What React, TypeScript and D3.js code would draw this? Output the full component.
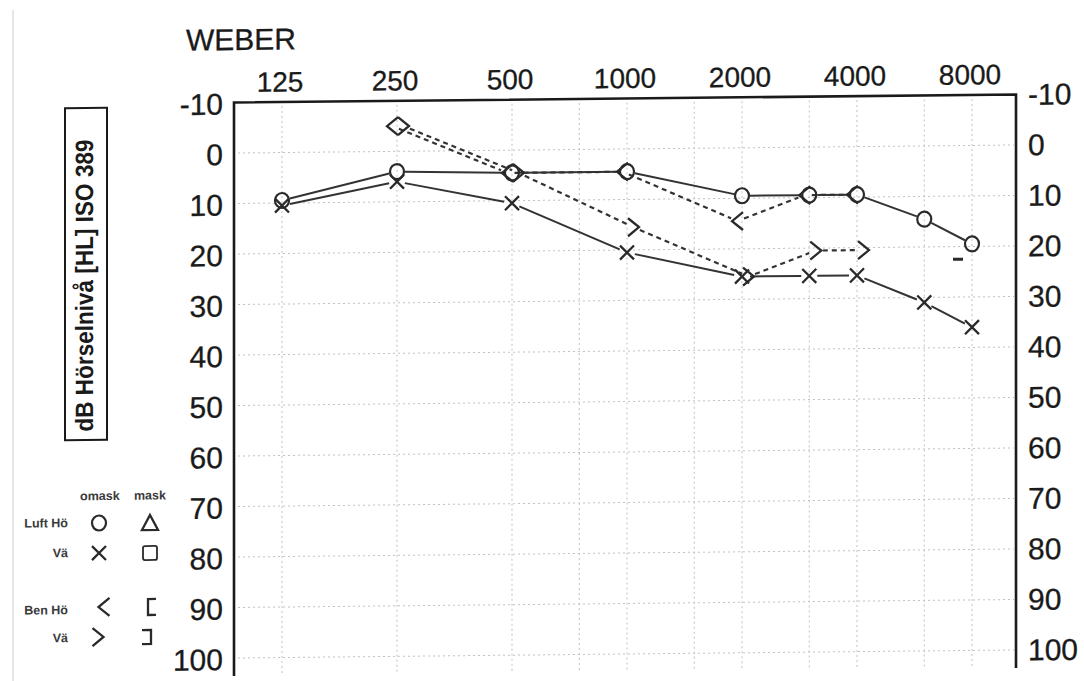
import React, { useEffect, useRef } from 'react';
import * as d3 from 'd3';

const W = 1084;
const H = 681;

// top axis frequencies (Hz) and the grid lines
const freqLabels = [125, 250, 500, 1000, 2000, 4000, 8000];
const gridFreqs = [125, 250, 500, 750, 1000, 1500, 2000, 3000, 4000, 6000, 8000];
const dbTicks = [-10, 0, 10, 20, 30, 40, 50, 60, 70, 80, 90, 100];
const dbGrid = [0, 10, 20, 30, 40, 50, 60, 70, 80, 90, 100];

// Luft Hö (circles, solid)
const airRightFreq = [125, 250, 500, 1000, 2000, 3000, 4000, 6000, 8000];
const airRightDb = [9.5, 4, 4.5, 4.5, 9.5, 9.5, 9.5, 14.5, 19.5];
// Luft Vä (crosses, solid)
const airLeftFreq = [125, 250, 500, 1000, 2000, 3000, 4000, 6000, 8000];
const airLeftDb = [10.5, 6, 10.5, 20.5, 25.5, 25.5, 25.5, 31, 36];
// Ben Hö (<, dashed)
const boneRightFreq = [250, 500, 1000, 2000, 3000, 4000];
const boneRightDb = [-5, 4.5, 4.5, 14.5, 9.5, 9.5];
// Ben Vä (>, dashed)
const boneLeftFreq = [250, 500, 1000, 2000, 3000, 4000];
const boneLeftDb = [-5, 4.5, 15.5, 25.5, 20.5, 20.5];
// stray mark under 8000
const extraFreq = [8000];
const extraDb = [22.5];

const FONT = 'Liberation Sans, Arial, sans-serif';
const INK = '#2a2a2a';

const symbolPath = (type: string) => {
    switch (type) {
        case 'cross': return 'M-7,-7L7,7M-7,7L7,-7';
        case 'lt': return 'M5.5,-9L-5.5,0L5.5,9';
        case 'gt': return 'M-5.5,-9L5.5,0L-5.5,9';
        case 'tri': return 'M0,-8L8,7L-8,7Z';
        case 'bracketL': return 'M4,-8L-4,-8L-4,8L4,8';
        case 'bracketR': return 'M-5,-7L4,-7L4,7L-5,7';
        case 'dash': return 'M-5,0L5,0';
        default: return '';
    }
};

const drawSymbol = (g: any, type: string, cx: number, cy: number) => {
    if (type === 'circle') {
        g.append('ellipse')
            .attr('cx', cx).attr('cy', cy)
            .attr('rx', 7).attr('ry', 7.5)
            .attr('fill', 'none').attr('stroke', INK).attr('stroke-width', 2.2);
    } else if (type === 'square') {
        g.append('rect')
            .attr('x', cx - 7).attr('y', cy - 7)
            .attr('width', 14).attr('height', 14).attr('rx', 2)
            .attr('fill', 'none').attr('stroke', INK).attr('stroke-width', 1.8);
    } else {
        g.append('path')
            .attr('d', symbolPath(type))
            .attr('transform', `translate(${cx},${cy})`)
            .attr('fill', 'none').attr('stroke', INK)
            .attr('stroke-width', type === 'dash' ? 3 : 2.3);
    }
};

const Audiogram = () => {
    const svgRef = useRef<SVGSVGElement | null>(null);

    useEffect(() => {
        const svg = d3.select(svgRef.current);
        svg.selectAll('*').remove();

        svg.append('rect').attr('width', W).attr('height', H).attr('fill', '#fff');

        // the scanned sheet is slightly skewed: right side sits higher
        const root = svg.append('g').attr('transform', 'translate(0,6.44) skewY(-0.59)');

        const left = 234;
        const right = 1016;
        const bottom = 672;

        const x = d3.scaleLog().domain([125, 8000]).range([282, 972]);
        const y = d3.scaleLinear().domain([-10, 100]).range([98.5, 654]);

        // faint scan edge
        svg.append('line')
            .attr('x1', 13).attr('x2', 13).attr('y1', 10).attr('y2', H)
            .attr('stroke', '#e6e6e6').attr('stroke-width', 2);

        // grid
        const grid = root.append('g')
            .attr('stroke', '#9a9a9a').attr('stroke-width', 1)
            .attr('stroke-dasharray', '2,3').attr('opacity', 0.6);
        grid.selectAll('.hg').data(dbGrid).enter().append('line')
            .attr('x1', left + 4).attr('x2', right - 2)
            .attr('y1', d => y(d)).attr('y2', d => y(d));
        grid.selectAll('.vg').data(gridFreqs).enter().append('line')
            .attr('x1', d => x(d)).attr('x2', d => x(d))
            .attr('y1', y(-10) + 4).attr('y2', bottom);

        // frame (no bottom edge)
        root.append('path')
            .attr('d', `M${left},${bottom}L${left},${y(-10)}L${right},${y(-10)}L${right},${bottom}`)
            .attr('fill', 'none').attr('stroke', '#1a1a1a').attr('stroke-width', 2.6);

        // top frequency labels
        root.selectAll('.fl').data(freqLabels).enter().append('text')
            .attr('x', d => x(d) - 2).attr('y', 88)
            .attr('text-anchor', 'middle')
            .attr('font-family', FONT).attr('font-size', 28).attr('fill', '#1a1a1a')
            .attr('stroke', '#1a1a1a').attr('stroke-width', 0.3)
            .text(d => d);

        root.append('text')
            .attr('x', 186).attr('y', 46)
            .attr('font-family', FONT).attr('font-size', 30).attr('fill', '#1a1a1a')
            .attr('stroke', '#1a1a1a').attr('stroke-width', 0.3)
            .text('WEBER');

        // dB labels on both sides
        root.selectAll('.ll').data(dbTicks).enter().append('text')
            .attr('x', 223).attr('y', d => y(d) + 1.5).attr('dy', '0.35em')
            .attr('text-anchor', 'end')
            .attr('font-family', FONT).attr('font-size', 30).attr('fill', '#1a1a1a')
            .attr('stroke', '#1a1a1a').attr('stroke-width', 0.3)
            .text(d => d);
        root.selectAll('.rl').data(dbTicks).enter().append('text')
            .attr('x', 1028).attr('y', d => y(d)).attr('dy', '0.35em')
            .attr('text-anchor', 'start')
            .attr('font-family', FONT).attr('font-size', 30).attr('fill', '#1a1a1a')
            .attr('stroke', '#1a1a1a').attr('stroke-width', 0.3)
            .text(d => d);

        // y title in a box
        root.append('rect')
            .attr('x', 65).attr('y', 102.4).attr('width', 42).attr('height', 332)
            .attr('fill', 'none').attr('stroke', '#1a1a1a').attr('stroke-width', 2);
        root.append('text')
            .attr('transform', 'translate(93,280) rotate(-90)')
            .attr('text-anchor', 'middle')
            .attr('font-family', FONT).attr('font-size', 25).attr('font-weight', 'bold')
            .attr('textLength', 292).attr('lengthAdjust', 'spacingAndGlyphs')
            .attr('fill', '#1a1a1a')
            .text('dB Hörselnivå [HL] ISO 389');

        // series
        const series = [
            { freq: airRightFreq, db: airRightDb, sym: 'circle', dx: 0, dash: null, gap: 8 },
            { freq: airLeftFreq, db: airLeftDb, sym: 'cross', dx: 0, dash: null, gap: 8 },
            { freq: boneRightFreq, db: boneRightDb, sym: 'lt', dx: -4.5, dash: '5,4', gap: 7 },
            { freq: boneLeftFreq, db: boneLeftDb, sym: 'gt', dx: 6.5, dash: '5,4', gap: 7 },
        ];

        const lines = root.append('g');
        const marks = root.append('g');

        series.forEach(s => {
            const pts = s.freq.map((f, i) => [x(f) + s.dx, y(s.db[i])] as [number, number]);
            for (let i = 0; i < pts.length - 1; i++) {
                const [x1, y1] = pts[i];
                const [x2, y2] = pts[i + 1];
                const len = Math.hypot(x2 - x1, y2 - y1);
                if (len <= s.gap * 2) continue;
                const ux = (x2 - x1) / len;
                const uy = (y2 - y1) / len;
                lines.append('line')
                    .attr('x1', x1 + ux * s.gap).attr('y1', y1 + uy * s.gap)
                    .attr('x2', x2 - ux * s.gap).attr('y2', y2 - uy * s.gap)
                    .attr('stroke', '#333').attr('stroke-width', s.dash ? 2.2 : 2)
                    .attr('stroke-dasharray', s.dash);
            }
            pts.forEach(([px, py]) => drawSymbol(marks, s.sym, px, py));
        });

        extraFreq.forEach((f, i) => drawSymbol(marks, 'dash', x(f) - 14, y(extraDb[i])));

        // legend
        const legend = root.append('g');
        const lt = (t: string, lx: number, ly: number, anchor: string) =>
            legend.append('text')
                .attr('x', lx).attr('y', ly).attr('text-anchor', anchor)
                .attr('font-family', FONT).attr('font-size', 12.5).attr('font-weight', 'bold')
                .attr('fill', '#3a3a3a')
                .text(t);
        lt('omask', 80, 494.6, 'start');
        lt('mask', 134, 494.6, 'start');
        lt('Luft Hö', 68, 521.4, 'end');
        lt('Vä', 68, 551.4, 'end');
        lt('Ben Hö', 68, 608.4, 'end');
        lt('Vä', 68, 636.4, 'end');
        drawSymbol(legend, 'circle', 99, 517.6);
        drawSymbol(legend, 'tri', 150, 518.1);
        drawSymbol(legend, 'cross', 99, 547.6);
        drawSymbol(legend, 'square', 150, 548.1);
        drawSymbol(legend, 'lt', 104, 601.6);
        drawSymbol(legend, 'bracketL', 152, 602.1);
        drawSymbol(legend, 'gt', 98, 631.6);
        drawSymbol(legend, 'bracketR', 147, 632.1);
    }, []);

    return <svg ref={svgRef} width={W} height={H} style={{ position: 'absolute', left: 0, top: 0 }} />;
};

export default function App() {
    return <Audiogram />;
}
